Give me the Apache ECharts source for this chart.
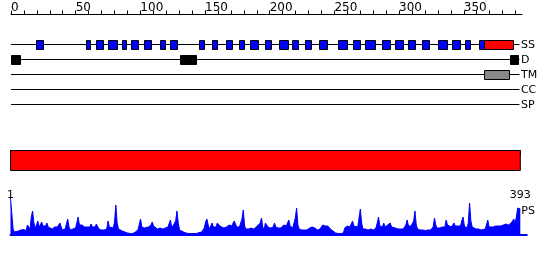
<!DOCTYPE html>
<html>
<head>
<meta charset="utf-8">
<script src="https://cdn.jsdelivr.net/npm/echarts@6/dist/echarts.min.js"></script>
<style>html,body{margin:0;padding:0;background:#fff;}#c{width:550px;height:260px;}</style>
</head>
<body>
<div id="c"></div>
<script>
// ---- data ----
const seqLength = 393;
const topTickValues = [0,10,20,30,40,50,60,70,80,90,100,110,120,130,140,150,160,170,180,190,200,210,220,230,240,250,260,270,280,290,300,310,320,330,340,350,360,370,380,390];
const topLabelValues = [0,50,100,150,200,250,300,350];
const trackNames = ['SS','D','TM','CC','SP'];
const ssBlue = [[19,25],[58,61],[66,71],[75,82],[86,89],[93,98],[103,108],[115,119],[123,128],[145,149],[155,159],[166,171],[176,180],[185,191],[196,201],[207,214],[217,222],[227,232],[238,244],[253,260],[264,270],[274,281],[287,293],[297,303],[307,312],[318,323],[330,337],[341,347],[351,355],[362,366]];
const ssRed = [[366,388]];
const dBoxes = [[0,7],[131,143],[386,392]];
const tmBoxes = [[366,385]];
const rulerLabels = [1, 393];
const psProfile = [[1,37],[2,36],[3,6],[4,3],[5,2.5],[7,4],[9,5],[11,5.5],[13,4.5],[14,10],[15,9],[16,6],[17,18],[18,24],[19,12],[20,7],[21,10],[22,14],[23,8],[24,7],[25,13],[26,9],[27,11],[28,9],[29,12],[30,8],[31,7],[33,6],[35,8],[37,8],[38,7],[39,12],[40,8],[41,5],[43,6],[45,16],[46,8],[47,5],[49,6],[51,7],[52,12],[53,18],[54,10],[55,9],[56,10],[57,12],[58,8],[59,9],[60,8],[62,8],[63,11],[64,8],[65,7],[66,8],[67,11],[68,9],[69,6],[71,5],[73,5],[75,6],[76,14],[77,8],[78,6],[80,7],[81,13],[82,30],[83,12],[84,6],[85,5],[87,4],[89,3],[91,2],[93,1.5],[95,1.5],[97,3],[99,5],[100,6],[101,16],[102,8],[103,6],[104,7],[105,9],[107,8],[109,10],[110,13],[111,9],[112,7],[114,6],[116,7],[118,6],[120,7],[122,8],[123,10],[124,15],[125,7],[126,6],[128,14],[129,24],[130,12],[131,5],
[132,5],[134,3],[136,2],[138,1.5],[140,1.5],[142,1.5],[144,1.5],[146,2.5],[148,3],[150,7],[151,13],[152,16],[153,10],[154,6],[155,8],[156,12],[157,8],[158,7],[159,8],[160,12],[161,13],[162,9],[163,7],[165,7],[167,8],[169,10],[171,9],[173,14],[174,12],[175,8],[177,8],[179,16],[180,25],[181,9],[182,6],[184,6],[186,7],[188,6],[190,8],[191,10],[193,12],[194,17],[195,8],[196,5],[197,12],[198,13],[199,8],[201,7],[203,8],[204,12],[205,8],[207,7],[209,7],[211,10],[213,9],[215,15],[216,9],[218,7],[219,8],[220,17],[221,27],[222,10],[223,6],[225,5],[227,5],[229,5],[231,7],[233,8],[234,10],[235,7],[237,5],[239,6],[241,10],[242,11],[243,9],[245,9],[247,6],[249,4],[251,2],[253,1.5],[255,1.5],[257,2],[258,7],[260,9],
[261,7],[262,8],[263,10],[264,14],[265,9],[266,8],[268,8],[269,10],[270,26],[271,12],[272,6],[274,6],[276,5],[278,6],[280,5],[282,7],[283,12],[284,18],[285,9],[286,7],[287,8],[288,12],[289,8],[290,9],[291,10],[292,9],[293,12],[294,8],[295,7],[297,7],[299,6],[301,6],[303,6],[305,10],[306,15],[307,9],[308,8],[309,9],[311,14],[312,24],[313,10],[314,6],[316,5],[318,5],[320,4.5],[322,5],[324,5],[326,8],[327,17],[328,10],[329,7],[331,7],[333,8],[335,8],[336,15],[337,10],[338,8],[340,8],[342,12],[343,9],[345,9],[346,10],[347,9],[348,14],[349,18],[350,9],[351,8],[352,7],[353,12],[354,32],[355,14],[356,8],[357,8],[359,6],[361,6],[363,5],[364,6],[366,6],[367,10],[368,15],[369,8],[370,7],[372,8],[373,10],[374,9],[376,9],[378,9],[380,10],[382,11],[384,10],[386,12],[387,14],[388,16],[389,12],[390,18],[391,27],[392,28],[393,26]];

// ---- chart ----
const FONT = 'DejaVu Sans';
const boxData = [];
ssBlue.forEach(b => boxData.push({value:[b[0], b[1], 0], itemStyle:{color:'#0000ff'}}));
ssRed.forEach(b => boxData.push({value:[b[0], b[1], 0], itemStyle:{color:'#ff0000'}}));
dBoxes.forEach(b => boxData.push({value:[b[0], b[1], 1], itemStyle:{color:'#000000'}}));
tmBoxes.forEach(b => boxData.push({value:[b[0], b[1], 2], itemStyle:{color:'#888888'}}));

const chart = echarts.init(document.getElementById('c'), null, {renderer:'canvas'});
chart.setOption({
  animation: false,
  backgroundColor: '#fff',
  grid: [
    {left: 11, top: 14.5, width: 511, height: 105},
    {left: 10.5, top: 150, width: 509.8, height: 30},
    {left: 10.5, top: 195, width: 516.3, height: 40}
  ],
  xAxis: [
    {gridIndex: 0, type: 'value', position: 'top', min: 0, max: 395,
     axisLine: {show: true, lineStyle: {color: '#000', width: 1}},
     axisTick: {show: true, length: 4, customValues: topTickValues, lineStyle: {color: '#000'}},
     axisLabel: {show: true, customValues: topLabelValues, align: 'left', margin: 1, color: '#000', fontSize: 12, fontFamily: FONT},
     splitLine: {show: false}},
    {gridIndex: 1, type: 'value', position: 'bottom', min: 1, max: seqLength,
     axisLine: {show: true, lineStyle: {color: '#000', width: 1}},
     axisTick: {show: true, length: 5, customValues: rulerLabels, lineStyle: {color: '#000'}},
     axisLabel: {show: true, customValues: rulerLabels, margin: 10, color: '#000', fontSize: 11, fontFamily: FONT},
     splitLine: {show: false}},
    {gridIndex: 2, type: 'value', min: 1, max: 398,
     axisLine: {show: true, lineStyle: {color: '#0000ff', width: 2}},
     axisTick: {show: false}, axisLabel: {show: false}, splitLine: {show: false}}
  ],
  yAxis: [
    {gridIndex: 0, type: 'value', inverse: true, min: 0, max: 7, show: false},
    {gridIndex: 1, type: 'value', inverse: true, min: 0, max: 30, show: false},
    {gridIndex: 2, type: 'value', min: 0, max: 40, show: false}
  ],
  series: [
    {type: 'custom', xAxisIndex: 0, yAxisIndex: 0,
     data: trackNames.map((n, i) => [i]),
     renderItem: function (params, api) {
       const row = api.value(0) + 2;
       const s = api.coord([0, row]);
       const e = api.coord([seqLength, row]);
       return {type: 'group', children: [
         {type: 'line', shape: {x1: s[0], y1: s[1], x2: e[0], y2: e[1]}, style: {stroke: '#000', lineWidth: 1}},
         {type: 'text', x: e[0] + 1.5, y: s[1] + 0.5, style: {text: trackNames[params.dataIndex], fill: '#000', font: '11px "DejaVu Sans"', align: 'left', verticalAlign: 'middle'}}
       ]};
     }},
    {type: 'custom', xAxisIndex: 0, yAxisIndex: 0, data: boxData,
     renderItem: function (params, api) {
       const row = api.value(2) + 2;
       const s = api.coord([api.value(0), row]);
       const e = api.coord([api.value(1), row]);
       const x0 = Math.round(s[0]) + 0.5, x1 = Math.round(e[0]) + 0.5;
       return {type: 'rect', shape: {x: x0, y: s[1] - 4, width: x1 - x0, height: 9},
               style: {fill: api.visual('color'), stroke: '#000', lineWidth: 1}};
     }},
    {type: 'custom', xAxisIndex: 1, yAxisIndex: 1, data: [[1, seqLength]],
     renderItem: function (params, api) {
       const s = api.coord([api.value(0), 0.5]);
       const e = api.coord([api.value(1), 20.5]);
       return {type: 'rect', shape: {x: s[0], y: s[1], width: e[0] - s[0], height: e[1] - s[1]},
               style: {fill: '#ff0000', stroke: '#000', lineWidth: 1}};
     }},
    {type: 'line', xAxisIndex: 2, yAxisIndex: 2, data: psProfile, symbol: 'none',
     lineStyle: {color: '#0000ff', width: 1}, itemStyle: {color: '#0000ff'},
     areaStyle: {color: '#0000ff', opacity: 1},
     endLabel: {show: true, formatter: 'PS', distance: 1, offset: [0, 2], color: '#000', fontSize: 11, fontFamily: FONT}}
  ]
});
</script>
</body>
</html>
